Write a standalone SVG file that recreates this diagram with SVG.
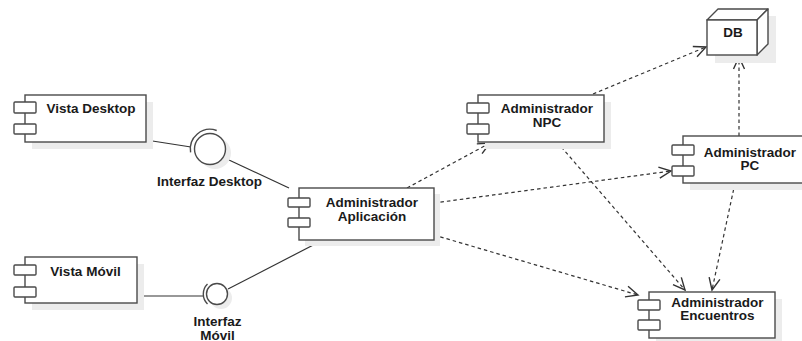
<svg xmlns="http://www.w3.org/2000/svg" width="802" height="341" viewBox="0 0 802 341">
<style>
.shadow{fill:#ececec;stroke:none}
.box{fill:#fff;stroke:#4a4a4a;stroke-width:1.4}
.port{fill:#fff;stroke:#4a4a4a;stroke-width:1.4}
.lbl{font-family:"Liberation Sans",Arial,sans-serif;font-weight:bold;font-size:13.5px;fill:#1a1a1a;text-anchor:middle}
.dep{fill:none;stroke:#333;stroke-width:1.2;stroke-dasharray:3.5,3}
.solid{fill:none;stroke:#333;stroke-width:1.2}
</style>
<defs>
<marker id="open" markerWidth="16" markerHeight="16" refX="13" refY="7" orient="auto" markerUnits="userSpaceOnUse" overflow="visible">
<path d="M1,1.5 L13,7 L1,12.5" fill="none" stroke="#333" stroke-width="1.4" stroke-dasharray="none"/>
</marker>
</defs>
<rect width="802" height="341" fill="#fff"/>

<g id="connectors">
<line class="solid" x1="146" y1="140" x2="191" y2="147"/>
<line class="solid" x1="229" y1="160" x2="289" y2="188"/>
<line class="solid" x1="137" y1="296" x2="204" y2="296"/>
<line class="solid" x1="228" y1="289" x2="323" y2="240"/>
<line class="dep" x1="407" y1="188" x2="490" y2="143" marker-end="url(#open)"/>
<line class="dep" x1="434" y1="203" x2="671" y2="171" marker-end="url(#open)"/>
<line class="dep" x1="434" y1="235" x2="638" y2="295" marker-end="url(#open)"/>
<line class="dep" x1="593" y1="94" x2="706" y2="47" marker-end="url(#open)"/>
<line class="dep" x1="557" y1="142" x2="685" y2="290" marker-end="url(#open)"/>
<line class="dep" x1="735" y1="183" x2="712" y2="290" marker-end="url(#open)"/>
<line class="dep" x1="739" y1="136" x2="739" y2="57" marker-end="url(#open)"/>
</g>

<g id="vista-desktop">
<rect class="shadow" x="32" y="102" width="121" height="47"/>
<rect class="box" x="25" y="95" width="121" height="47"/>
<rect class="port" x="14" y="102" width="22" height="11" rx="1"/>
<rect class="port" x="14" y="124" width="22" height="10" rx="1"/>
<text class="lbl" x="91" y="113">Vista Desktop</text>
</g>

<g id="interfaz-desktop">
<circle cx="215" cy="153" r="16" fill="#ececec"/>
<circle cx="210" cy="149" r="15.5" fill="#fff" stroke="#4a4a4a" stroke-width="1.4"/>
<path d="M190.6,152.4 A19.7,19.7 0 0 1 216.7,130.5" fill="none" stroke="#4a4a4a" stroke-width="1.4"/>
<text class="lbl" x="209.5" y="186">Interfaz Desktop</text>
</g>

<g id="vista-movil">
<rect class="shadow" x="32" y="264" width="112" height="46"/>
<rect class="box" x="25" y="257" width="112" height="46"/>
<rect class="port" x="14" y="265" width="22" height="10" rx="1"/>
<rect class="port" x="14" y="287" width="22" height="10" rx="1"/>
<text class="lbl" x="85.5" y="276">Vista Móvil</text>
</g>

<g id="interfaz-movil">
<circle cx="221" cy="298" r="11" fill="#ececec"/>
<circle cx="217" cy="294" r="10.5" fill="#fff" stroke="#4a4a4a" stroke-width="1.4"/>
<path d="M207.5,284 A14,14 0 0 0 207.5,304" fill="none" stroke="#4a4a4a" stroke-width="1.4"/>
<text class="lbl" x="217.5" y="326">Interfaz</text>
<text class="lbl" x="217.5" y="339.5">Móvil</text>
</g>

<g id="admin-aplicacion">
<rect class="shadow" x="305" y="194" width="135" height="52"/>
<rect class="box" x="299" y="188" width="135" height="52"/>
<rect class="port" x="288" y="198" width="22" height="9" rx="1"/>
<rect class="port" x="288" y="218" width="22" height="9" rx="1"/>
<text class="lbl" x="372" y="207">Administrador</text>
<text class="lbl" x="372" y="220.5">Aplicación</text>
</g>

<g id="admin-npc">
<rect class="shadow" x="485" y="102" width="126" height="47"/>
<rect class="box" x="478" y="95" width="126" height="47"/>
<rect class="port" x="467" y="103" width="22" height="10" rx="1"/>
<rect class="port" x="467" y="124" width="22" height="10" rx="1"/>
<text class="lbl" x="547" y="113">Administrador</text>
<text class="lbl" x="547" y="126.5">NPC</text>
</g>

<g id="db">
<rect class="shadow" x="715" y="16" width="61" height="47"/>
<polygon points="707,20 718,9 768,9 757,20" fill="#fff" stroke="#4a4a4a" stroke-width="1.4" stroke-linejoin="round"/>
<polygon points="757,20 768,9 768,44 757,55" fill="#fff" stroke="#4a4a4a" stroke-width="1.4" stroke-linejoin="round"/>
<rect class="box" x="707" y="20" width="50" height="35"/>
<text class="lbl" x="733" y="36.5">DB</text>
</g>

<g id="admin-pc">
<rect class="shadow" x="690" y="143" width="126" height="47"/>
<rect class="box" x="683" y="136" width="126" height="47"/>
<rect class="port" x="672" y="145" width="22" height="10" rx="1"/>
<rect class="port" x="672" y="166" width="22" height="10" rx="1"/>
<text class="lbl" x="750" y="156.5">Administrador</text>
<text class="lbl" x="750" y="170">PC</text>
</g>

<g id="admin-encuentros">
<rect class="shadow" x="656" y="299" width="126" height="46"/>
<rect class="box" x="649" y="292" width="126" height="46"/>
<rect class="port" x="638" y="300" width="22" height="10" rx="1"/>
<rect class="port" x="638" y="320" width="22" height="10" rx="1"/>
<text class="lbl" x="717.5" y="306.5">Administrador</text>
<text class="lbl" x="717.5" y="320">Encuentros</text>
</g>
</svg>
